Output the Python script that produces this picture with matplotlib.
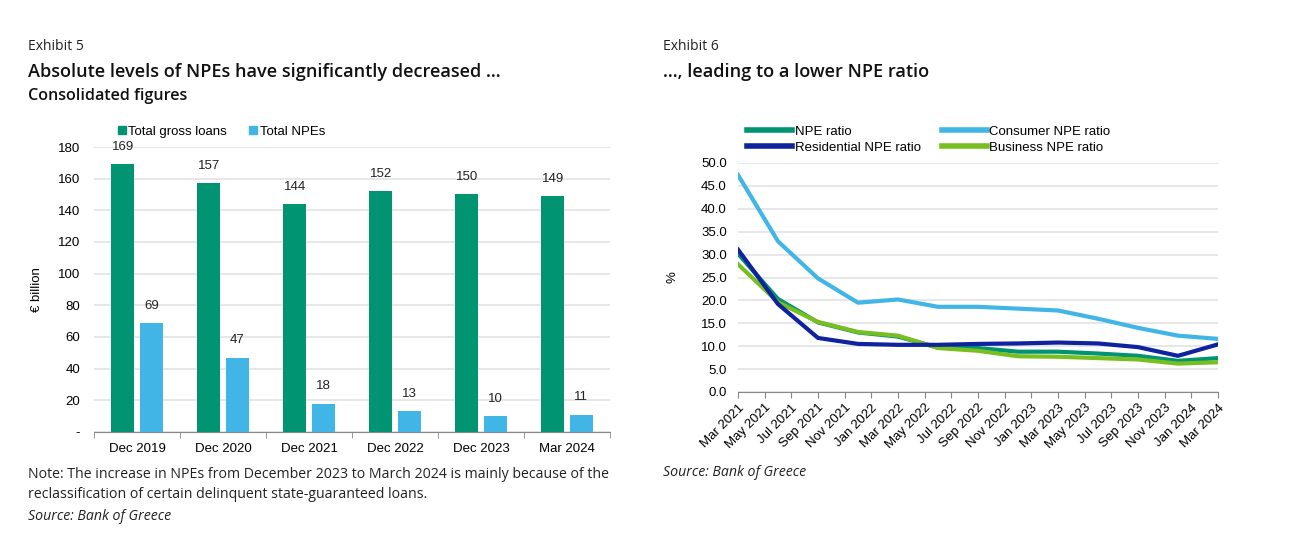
import numpy as np
import matplotlib.pyplot as plt
from matplotlib.patches import Patch
from matplotlib.lines import Line2D

# ---- data: Exhibit 5 ----
periods = ['Dec 2019', 'Dec 2020', 'Dec 2021', 'Dec 2022', 'Dec 2023', 'Mar 2024']
gross_loans = [169, 157, 144, 152, 150, 149]
total_npes = [69, 47, 18, 13, 10, 11]

# ---- data: Exhibit 6 (quarterly, Mar 2021 - Mar 2024) ----
month_labels = ['Mar 2021', 'May 2021', 'Jul 2021', 'Sep 2021', 'Nov 2021', 'Jan 2022',
                'Mar 2022', 'May 2022', 'Jul 2022', 'Sep 2022', 'Nov 2022', 'Jan 2023',
                'Mar 2023', 'May 2023', 'Jul 2023', 'Sep 2023', 'Nov 2023', 'Jan 2024',
                'Mar 2024']
quarter_months = [0, 3, 6, 9, 12, 15, 18, 21, 24, 27, 30, 33, 36]
npe_ratio = [30.2, 20.3, 15.2, 13.0, 12.1, 9.7, 9.6, 8.8, 8.8, 8.4, 7.9, 6.8, 7.4]
consumer_ratio = [47.4, 32.9, 24.8, 19.5, 20.2, 18.6, 18.6, 18.2, 17.8, 16.0, 14.0, 12.3, 11.6]
residential_ratio = [31.1, 19.2, 11.8, 10.5, 10.3, 10.3, 10.5, 10.6, 10.8, 10.6, 9.8, 7.9, 10.4]
business_ratio = [27.9, 19.6, 15.3, 13.1, 12.3, 9.6, 9.0, 7.8, 7.7, 7.4, 7.1, 6.2, 6.5]

GREEN = '#009473'
LIGHTBLUE = '#41B6E6'
DARKBLUE = '#10239E'
LIME = '#78BE20'
GRID = '#E3E3E3'

W, H = 1296, 544
fig = plt.figure(figsize=(W / 100, H / 100), dpi=100)

head_font = 'Open Sans'
chart_font = 'Liberation Sans'

def fx(px):
    return px / W

def fy(py):
    return 1 - py / H

# ---- headings and notes ----
fig.text(fx(28), fy(46), 'Exhibit 5', fontsize=10, family=head_font, va='center', color='#222222')
fig.text(fx(28), fy(72), 'Absolute levels of NPEs have significantly decreased …', fontsize=13.1,
         family=head_font, weight='semibold', va='center', color='#111111')
fig.text(fx(28), fy(96), 'Consolidated figures', fontsize=11.6, family=head_font, weight='semibold',
         va='center', color='#111111')
fig.text(fx(663), fy(46), 'Exhibit 6', fontsize=10, family=head_font, va='center', color='#222222')
fig.text(fx(663), fy(72), '…, leading to a lower NPE ratio', fontsize=13.1,
         family=head_font, weight='semibold', va='center', color='#111111')

fig.text(fx(28), fy(474), 'Note: The increase in NPEs from December 2023 to March 2024 is mainly because of the',
         fontsize=10.2, family=head_font, va='center', color='#222222')
fig.text(fx(28), fy(495), 'reclassification of certain delinquent state-guaranteed loans.',
         fontsize=10.2, family=head_font, va='center', color='#222222')
fig.text(fx(28), fy(517), 'Source: Bank of Greece', fontsize=10.2, family=head_font, style='italic',
         va='center', color='#222222')
fig.text(fx(663), fy(473), 'Source: Bank of Greece', fontsize=10.2, family=head_font, style='italic',
         va='center', color='#222222')

# ---- Exhibit 5: bars ----
ax1 = fig.add_axes([fx(94), fy(432), fx(610 - 94), (432 - 147) / H])
x = np.arange(len(periods))
bw = 0.26
off = 0.167
ax1.bar(x - off, gross_loans, bw, color=GREEN, zorder=3)
ax1.bar(x + off, total_npes, bw, color=LIGHTBLUE, zorder=3)
for xi, v in zip(x, gross_loans):
    ax1.annotate(str(v), (xi - off, v), xytext=(0, 8), textcoords='offset points',
                 ha='center', va='bottom', fontsize=9.5, family=chart_font, color='#222222')
for xi, v in zip(x, total_npes):
    ax1.annotate(str(v), (xi + off, v), xytext=(0, 8), textcoords='offset points',
                 ha='center', va='bottom', fontsize=9.5, family=chart_font, color='#222222')
ax1.set_xlim(-0.5, len(periods) - 0.5)
ax1.set_ylim(0, 180)
ax1.set_yticks(range(0, 181, 20))
ax1.set_yticklabels(['-'] + [str(v) for v in range(20, 181, 20)], family=chart_font, fontsize=9.5)
ax1.set_xticks(x)
ax1.set_xticklabels(periods, family=chart_font, fontsize=9.5)
ax1.set_xticks(np.arange(-0.5, len(periods)), minor=True)
ax1.tick_params(axis='x', which='major', length=0, pad=8)
ax1.tick_params(axis='x', which='minor', length=4, color='#888888', direction='out')
ax1.tick_params(axis='y', length=0, pad=10)
ax1.set_ylabel('€ billion', family=chart_font, fontsize=9.5, labelpad=11)
ax1.yaxis.grid(True, color=GRID, linewidth=1.2, zorder=0)
for s in ['left', 'right', 'top']:
    ax1.spines[s].set_visible(False)
ax1.spines['bottom'].set_color('#888888')
ax1.legend(handles=[Patch(color=GREEN, label='Total gross loans'),
                    Patch(color=LIGHTBLUE, label='Total NPEs')],
           loc='lower left', bbox_to_anchor=(0.028, 1.0), ncol=2, frameon=False,
           prop={'family': chart_font, 'size': 9.5}, handlelength=0.6, handleheight=0.6,
           handletextpad=0.2, columnspacing=1.7, borderaxespad=0.5, borderpad=0.2)

# ---- Exhibit 6: lines ----
ax2 = fig.add_axes([fx(738), fy(392), fx(1218 - 738), (392 - 163) / H])
lw = 3
ax2.plot(quarter_months, npe_ratio, color=GREEN, lw=lw, zorder=3)
ax2.plot(quarter_months, consumer_ratio, color=LIGHTBLUE, lw=lw, zorder=3)
ax2.plot(quarter_months, residential_ratio, color=DARKBLUE, lw=lw, zorder=4)
ax2.plot(quarter_months, business_ratio, color=LIME, lw=lw, zorder=3)
ax2.set_xlim(0, 36)
ax2.set_ylim(0, 50)
ax2.set_yticks(np.arange(0, 50.1, 5))
ax2.set_yticklabels([f'{v:.1f}' for v in np.arange(0, 50.1, 5)], family=chart_font, fontsize=9.5)
ax2.set_xticks(range(0, 37, 2))
ax2.set_xticklabels(month_labels, rotation=45, ha='right', rotation_mode='anchor',
                    family=chart_font, fontsize=9.5)
ax2.tick_params(axis='x', length=4, color='#888888', pad=3)
ax2.tick_params(axis='y', length=0, pad=8)
ax2.set_ylabel('%', family=chart_font, fontsize=9.5, labelpad=16)
ax2.yaxis.grid(True, color=GRID, linewidth=1.2, zorder=0)
for s in ['left', 'right', 'top']:
    ax2.spines[s].set_visible(False)
ax2.spines['bottom'].set_color('#888888')
handles = [Line2D([], [], color=GREEN, lw=4, label='NPE ratio'),
           Line2D([], [], color=DARKBLUE, lw=4, label='Residential NPE ratio'),
           Line2D([], [], color=LIGHTBLUE, lw=4, label='Consumer NPE ratio'),
           Line2D([], [], color=LIME, lw=4, label='Business NPE ratio')]
ax2.legend(handles=handles, loc='lower left', bbox_to_anchor=(0.0, 1.0), ncol=2, frameon=False,
           prop={'family': chart_font, 'size': 9.5}, handlelength=3.4, handletextpad=0.2,
           columnspacing=1.6, labelspacing=0.3, borderaxespad=0.5, borderpad=0.2)

fig.savefig('out.png', dpi=100)
